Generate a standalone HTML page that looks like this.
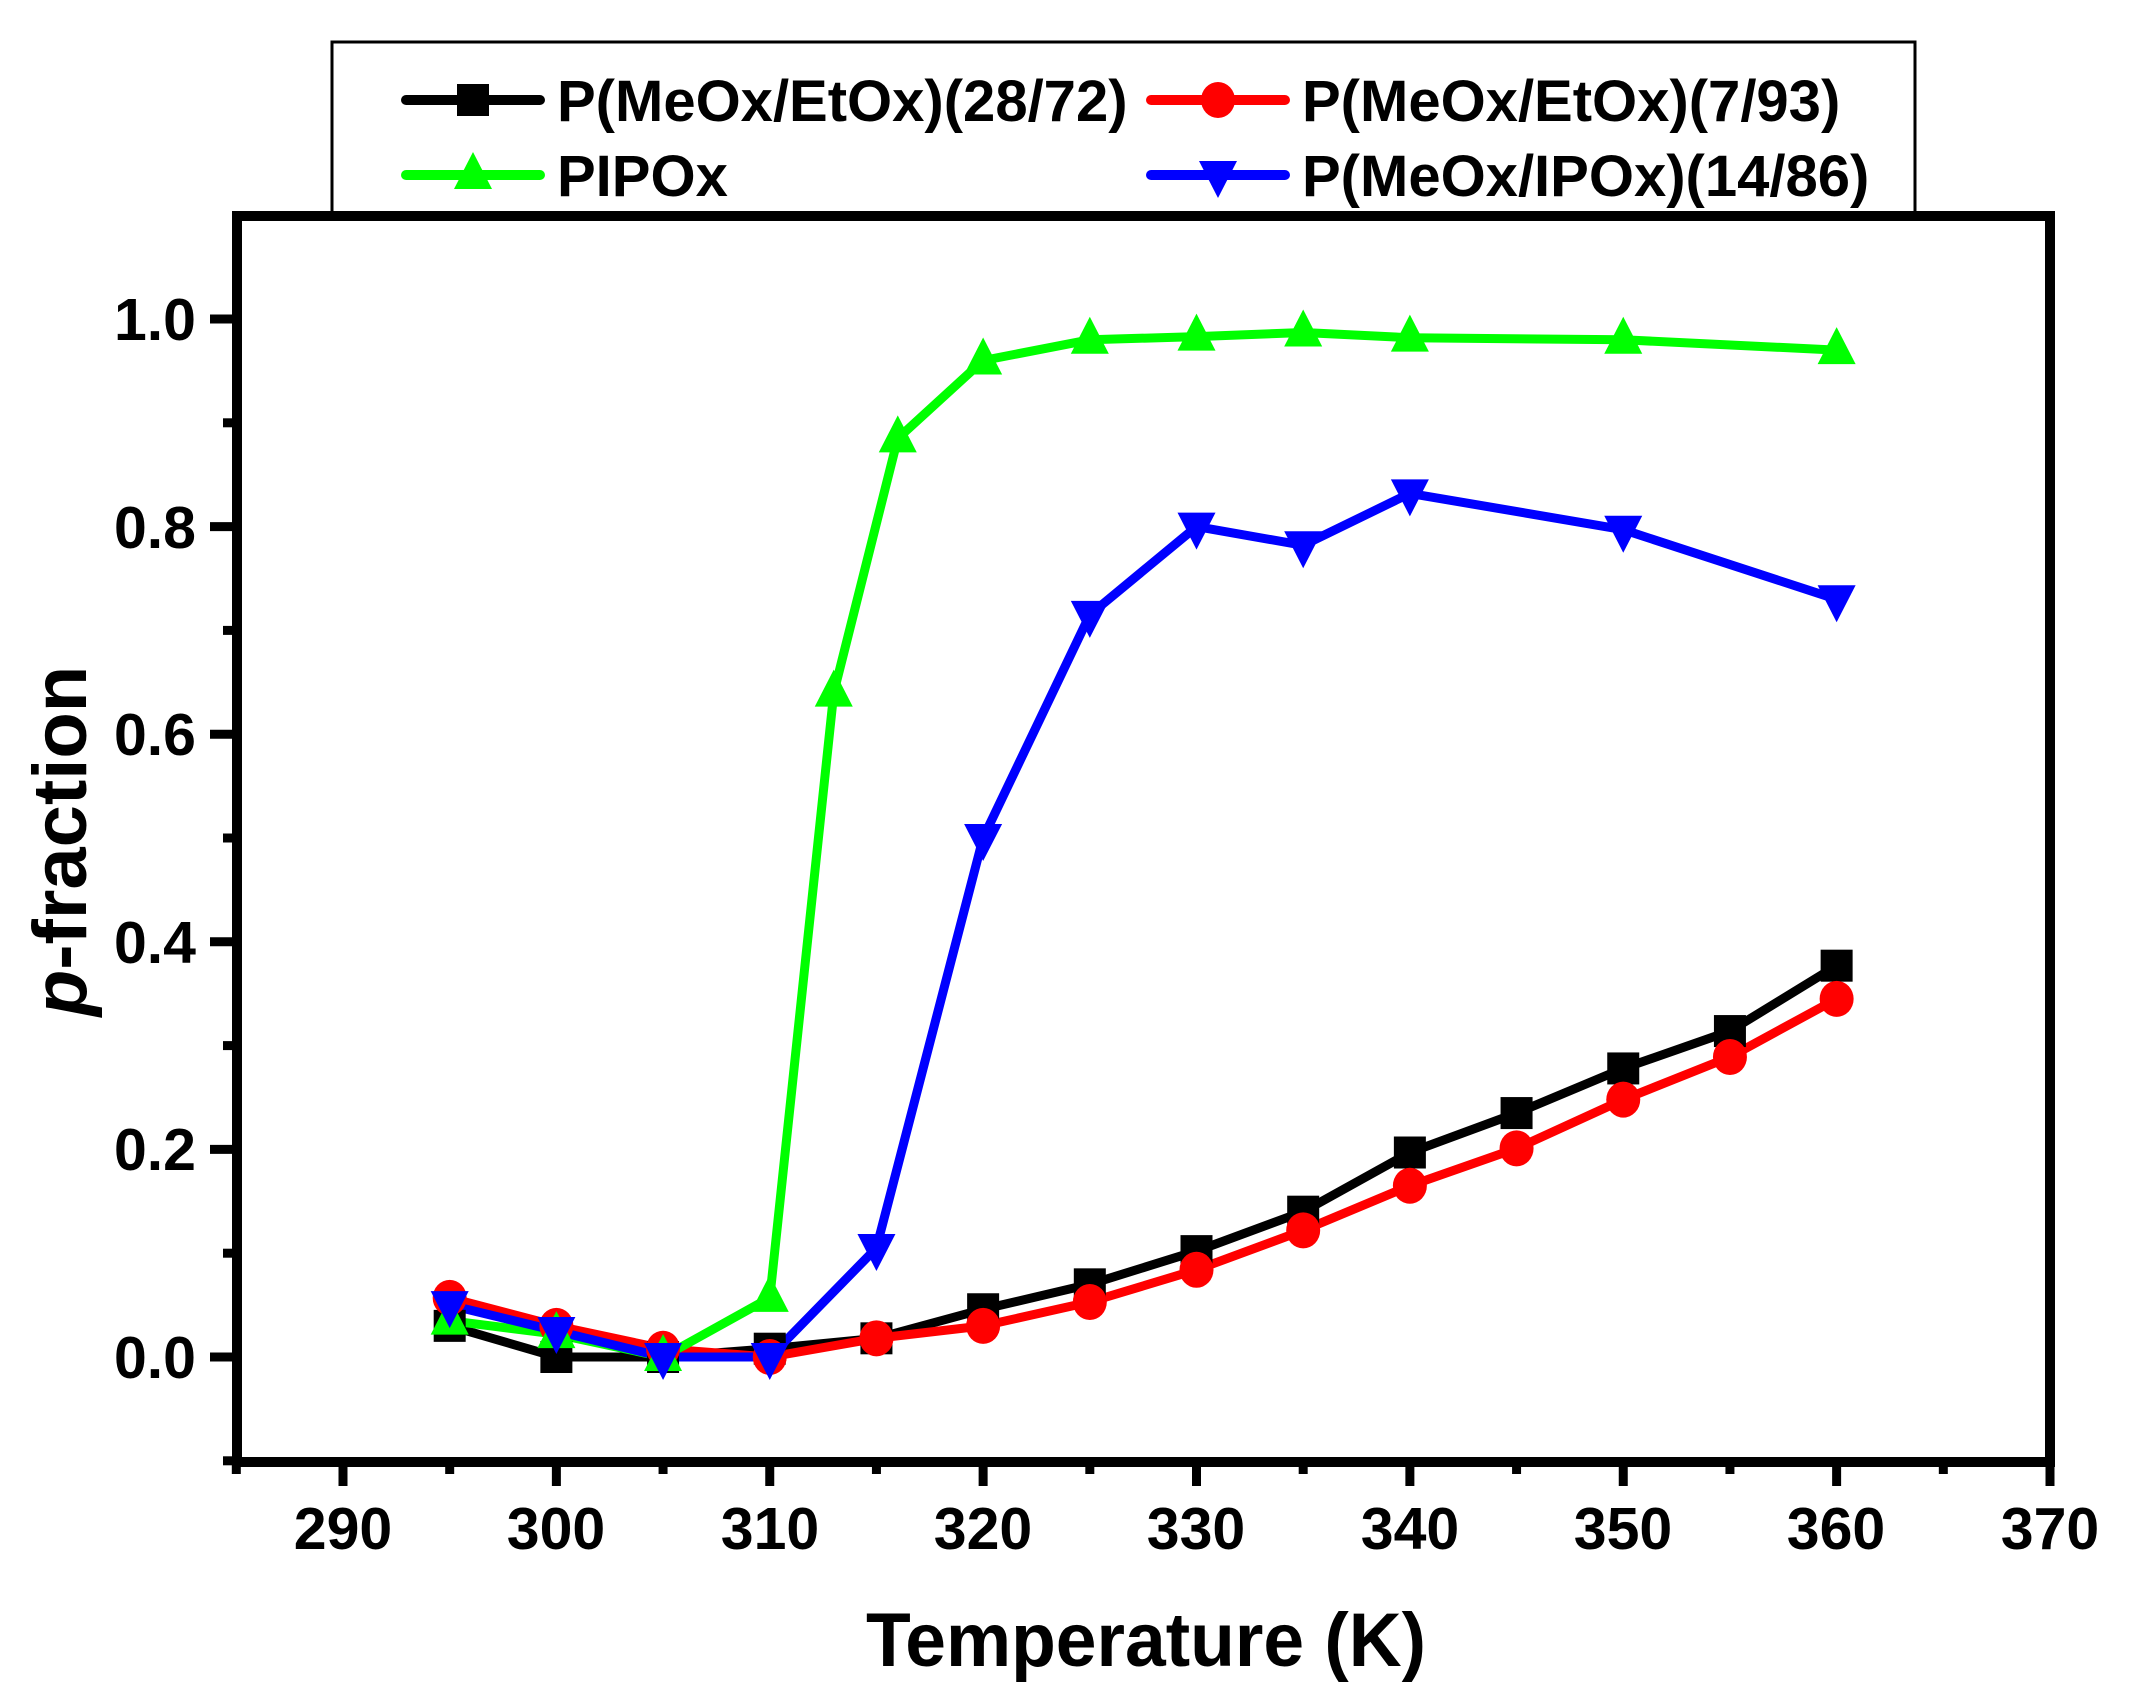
<!DOCTYPE html>
<html><head><meta charset="utf-8"><style>
html,body{margin:0;padding:0;background:#fff;}
svg{display:block;}
text{font-family:"Liberation Sans",Arial,sans-serif;font-weight:bold;fill:#000;}
</style></head><body>
<svg id="s" xmlns="http://www.w3.org/2000/svg" width="2142" height="1706" viewBox="0 0 2142 1706">
<rect width="2142" height="1706" fill="#fff"/>
<rect x="332" y="42" width="1583" height="176" fill="#fff" stroke="#000" stroke-width="3"/>
<g id="plot"></g>
<rect x="237" y="216" width="1813" height="1246" fill="none" stroke="#000" stroke-width="10"/>
<g id="ticks" stroke="#000" stroke-width="9"></g>
<g font-size="59" text-anchor="end">
<text x="196" y="1378">0.0</text>
<text x="196" y="1170">0.2</text>
<text x="196" y="963">0.4</text>
<text x="196" y="755">0.6</text>
<text x="196" y="548">0.8</text>
<text x="196" y="340">1.0</text>
</g>
<g font-size="59" text-anchor="middle">
<text x="343" y="1549">290</text>
<text x="556" y="1549">300</text>
<text x="770" y="1549">310</text>
<text x="983" y="1549">320</text>
<text x="1196" y="1549">330</text>
<text x="1410" y="1549">340</text>
<text x="1623" y="1549">350</text>
<text x="1836" y="1549">360</text>
<text x="2050" y="1549">370</text>
</g>
<text x="1146" y="1666" font-size="76" text-anchor="middle" textLength="560" lengthAdjust="spacingAndGlyphs">Temperature (K)</text>
<text transform="translate(86,841) rotate(-90)" font-size="76" text-anchor="middle"><tspan font-style="italic">p</tspan>-fraction</text>
<g font-size="58">
<text x="557" y="121">P(MeOx/EtOx)(28/72)</text>
<text x="1302" y="121">P(MeOx/EtOx)(7/93)</text>
<text x="557" y="196">PIPOx</text>
<text x="1302" y="196">P(MeOx/IPOx)(14/86)</text>
</g>
<g id="leg"></g>
</svg>
<script>
var NS="http://www.w3.org/2000/svg";
function X(t){return 343+(t-290)*21.3375;}
function Y(v){return 1357-v*1038;}
function el(p,n,a){var e=document.createElementNS(NS,n);for(var k in a)e.setAttribute(k,a[k]);p.appendChild(e);return e;}
var plot=document.getElementById('plot'),leg=document.getElementById('leg'),ticks=document.getElementById('ticks');
for(var t=285;t<=370;t+=5){var x=X(t);var major=(t%10==0);el(ticks,'line',{x1:x,y1:1462,x2:x,y2:major?1486:1474});}
for(var i=-1;i<=11;i++){var v=i/10;var y=Y(v);if(y<216||y>1462)continue;var major=(i%2==0);el(ticks,'line',{x1:237,y1:y,x2:major?210:223,y2:y});}
var series=[
 {c:'#000',m:'sq',d:[[295,.03],[300,0],[305,0],[310,.008],[315,.018],[320,.046],[325,.07],[330,.102],[335,.14],[340,.197],[345,.235],[350,.278],[355,.314],[360,.377]]},
 {c:'#ff0000',m:'ci',d:[[295,.057],[300,.03],[305,.008],[310,0],[315,.018],[320,.03],[325,.053],[330,.084],[335,.122],[340,.165],[345,.201],[350,.248],[355,.289],[360,.345]]},
 {c:'#00ff00',m:'up',d:[[295,.035],[300,.022],[305,0],[310,.057],[313,.64],[316,.885],[320,.96],[325,.98],[330,.983],[335,.987],[340,.982],[350,.98],[360,.97]]},
 {c:'#0000ff',m:'dn',d:[[295,.05],[300,.025],[305,0],[310,0],[315,.105],[320,.5],[325,.715],[330,.8],[335,.782],[340,.832],[350,.797],[360,.73]]}
];
function marker(g,m,x,y,c){
 if(m=='sq')el(g,'rect',{x:x-16,y:y-16,width:32,height:32,fill:c});
 else if(m=='ci')el(g,'ellipse',{cx:x,cy:y,rx:17,ry:18,fill:c});
 else if(m=='up')el(g,'polygon',{points:(x)+','+(y-23)+' '+(x+19)+','+(y+14)+' '+(x-19)+','+(y+14),fill:c});
 else el(g,'polygon',{points:(x)+','+(y+23)+' '+(x+19)+','+(y-14)+' '+(x-19)+','+(y-14),fill:c});
}
series.forEach(function(s){
 var pts=s.d.map(function(p){return X(p[0]).toFixed(1)+','+Y(p[1]).toFixed(1);}).join(' ');
 el(plot,'polyline',{points:pts,fill:'none',stroke:s.c,'stroke-width':9,'stroke-linejoin':'round'});
});
series.forEach(function(s){s.d.forEach(function(p){marker(plot,s.m,X(p[0]),Y(p[1]),s.c);});});
var L=[[406,540,100],[1151,1285,100],[406,540,175],[1151,1285,175]];
series.forEach(function(s,i){var l=L[i];
 el(leg,'line',{x1:l[0],y1:l[2],x2:l[1],y2:l[2],stroke:s.c,'stroke-width':10,'stroke-linecap':'round'});
 marker(leg,s.m,(l[0]+l[1])/2,l[2],s.c);});
</script>
</body></html>
